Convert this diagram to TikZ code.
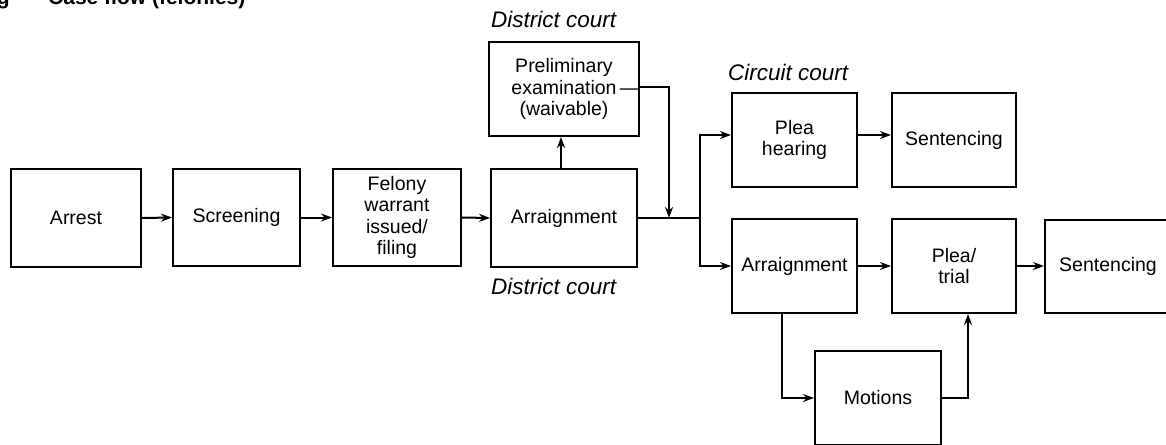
\documentclass[tikz,border=0pt]{standalone}
\usepackage{fontspec}
\setmainfont{Liberation Sans}
\usetikzlibrary{arrows.meta}
\tikzset{
  blk/.style={draw, line width=2pt, inner sep=0pt, align=center,
    font=\fontsize{19.5}{21.5}\selectfont},
  lbl/.style={inner sep=0pt, font=\fontsize{22.5}{24}\selectfont\itshape},
  conn/.style={line width=2pt},
  arr/.style={conn, -{Stealth[length=11pt,width=8pt]}},
}
\begin{document}
\begin{tikzpicture}[x=1pt,y=-1pt]
\useasboundingbox (0,0) rectangle (1166,444);
\clip (0,0) rectangle (1166,444);
% title (cut off at the top, as in the reference)
\node[anchor=base east, inner sep=0pt, font=\fontsize{21}{24}\selectfont\bfseries] (tg) at (10,5) {g};
\node[anchor=base west, inner sep=0pt, font=\fontsize{21}{24}\selectfont\bfseries] (title) at (48,5) {Case flow (felonies)};
% boxes
\node[blk, minimum width=130pt, minimum height=98pt] (arrest) at (76,218) {Arrest};
\node[blk, minimum width=127pt, minimum height=97pt] (screen) at (236.5,217.5) {Screening};
\node[blk, minimum width=128pt, minimum height=97pt] (felony) at (397,217.5) {Felony\\warrant\\issued/\\filing};
\node[blk, minimum width=146pt, minimum height=98pt] (arrD) at (564,218) {Arraignment};
\node[blk, minimum width=146pt, minimum height=94pt] (prelim) at (564,89) {Preliminary\\\hphantom{\,—}examination\,—\\(waivable)};
\node[blk, minimum width=125pt, minimum height=94pt] (pleah) at (794.5,140) {Plea\\hearing};
\node[blk, minimum width=124pt, minimum height=94pt] (sent1) at (954,140) {Sentencing};
\node[blk, minimum width=125pt, minimum height=94pt] (arrC) at (794.5,266) {Arraignment};
\node[blk, minimum width=124pt, minimum height=94pt] (trial) at (954,266) {Plea/\\trial};
\node[blk, minimum width=126pt, minimum height=93pt] (sent2) at (1108,266.5) {Sentencing};
\node[blk, minimum width=126pt, minimum height=94pt] (motions) at (878,398) {Motions};
% labels
\node[lbl, anchor=base west] (ldc1) at (491,28) {District court};
\node[lbl, anchor=base west] (lcc) at (728,81) {Circuit court};
\node[lbl, anchor=base west] (ldc2) at (491,294) {District court};
% junction points
\coordinate (m1) at (669,218);
\coordinate (j) at (700,218);
% connectors
\draw[arr] (arrest.east) -- (screen.west);
\draw[arr] (screen.east) -- (felony.west);
\draw[arr] (felony.east) -- (arrD.west);
\draw[arr] ([xshift=-3pt]arrD.north) -- ([xshift=-3pt]prelim.south);
\draw[conn] (arrD.east) -- (j);
\draw[arr] ([yshift=2pt]prelim.east) -| (m1);
\draw[arr] (j) |- ([yshift=5pt]pleah.west);
\draw[arr] (j) |- (arrC.west);
\draw[arr] ([yshift=5pt]pleah.east) -- ([yshift=5pt]sent1.west);
\draw[arr] (arrC.east) -- (trial.west);
\draw[arr] (trial.east) -- (sent2.west |- trial.east);
\draw[arr] ([xshift=-12.5pt]arrC.south) |- (motions.west);
\draw[arr] (motions.east) -| ([xshift=14pt]trial.south);
\end{tikzpicture}
\end{document}
